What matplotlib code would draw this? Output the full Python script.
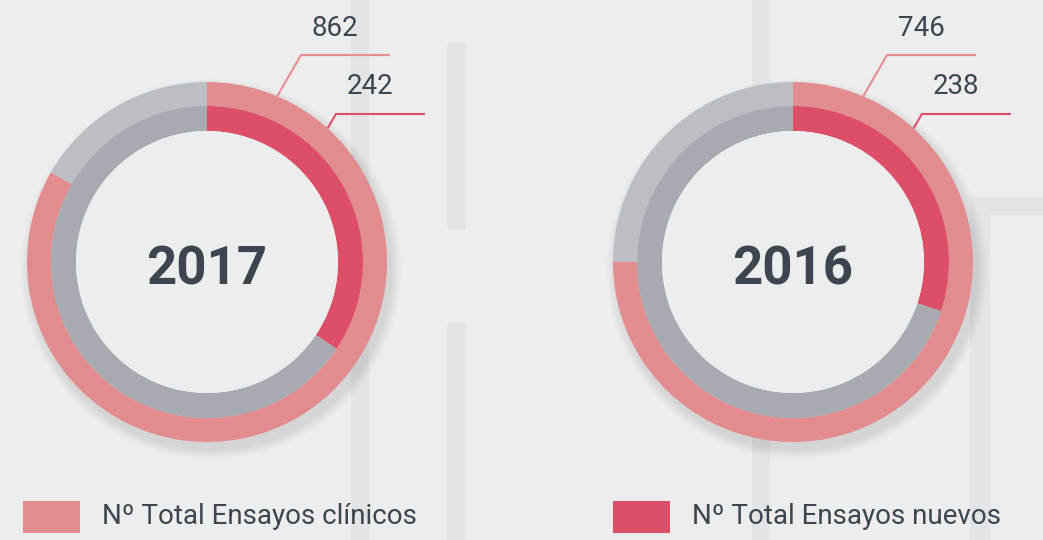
import math

import matplotlib.pyplot as plt
from matplotlib.patches import Rectangle, Wedge

# data
years = ["2017", "2016"]
totales = [862, 746]
nuevos = [242, 238]
# share of each ring that is filled
frac_totales = [0.833, 0.75]
frac_nuevos = [0.344, 0.301]
legend_labels = ["Nº Total Ensayos clínicos", "Nº Total Ensayos nuevos"]

W, H = 1043, 540
BG = "#EDEDED"
PINK = "#E38C8F"
RED = "#DD4E69"
GREY_OUT = "#BBBEC2"
GREY_IN = "#A7AAB0"
TEXT = "#3D4550"
STRIPE = "#E3E4E6"

centers_x = [207, 793]
center_y = 262  # pixels from the top
R_OUT, R_MID, R_IN = 180, 156, 131

fig = plt.figure(figsize=(W / 100, H / 100), dpi=100, facecolor=BG)
ax = fig.add_axes([0, 0, 1, 1])
ax.set_facecolor(BG)

# light decorative bands behind the rings (x, y_top, w, h in pixels)
bands = [(351, 0, 18, 540), (447, 43, 19, 187), (447, 323, 19, 217),
         (752, 0, 18, 540), (970, 197, 73, 18), (970, 215, 20, 325)]
for x, y, w, h in bands:
    ax.add_patch(Rectangle((x, H - y - h), w, h, color=STRIPE, lw=0, zorder=0))

for i, cx in enumerate(centers_x):
    cy = H - center_y

    # soft drop shadow, only outside the ring
    for k in range(8):
        r = R_OUT + 1 + k * 1.3
        ax.add_patch(Wedge((cx + 4, cy - 7), r, 0, 360, width=r - R_IN - 12,
                           color="black", alpha=0.012, lw=0, zorder=1))

    ax.pie([frac_totales[i], 1 - frac_totales[i]], colors=[PINK, GREY_OUT],
           radius=R_OUT, center=(cx, cy), startangle=90, counterclock=False,
           wedgeprops=dict(width=R_OUT - R_MID, linewidth=0), frame=True)
    ax.pie([frac_nuevos[i], 1 - frac_nuevos[i]], colors=[RED, GREY_IN],
           radius=R_MID, center=(cx, cy), startangle=90, counterclock=False,
           wedgeprops=dict(width=R_MID - R_IN, linewidth=0), frame=True)
    # hole on top so the shadow never shows inside
    ax.add_patch(Wedge((cx, cy), R_IN, 0, 360, color=BG, lw=0, zorder=3))

    ax.text(cx, cy - 8, years[i], ha="center", va="center", fontsize=38,
            fontweight="bold", color=TEXT, family="Roboto", zorder=4)

    # leader lines with the values
    for ang, top, val, col in [(23, 55, totales[i], "#E68F93"),
                               (42, 114, nuevos[i], RED)]:
        a = math.radians(ang)
        x0 = cx + (R_OUT + 1) * math.sin(a)
        y0 = center_y - (R_OUT + 1) * math.cos(a)
        x1 = x0 + (y0 - top) * math.tan(math.radians(30))
        x2 = x1 + 88
        ax.plot([x0, x1, x2], [H - y0, H - top, H - top], color=col, lw=1.5,
                solid_joinstyle="miter", zorder=5)
        ax.text(x1 + 34, H - top + 27, str(val), ha="center", va="center",
                fontsize=20, color=TEXT, family="Roboto", zorder=5)

# legend
legend_x = [23, 613]
legend_cols = [PINK, RED]
for lx, lab, col in zip(legend_x, legend_labels, legend_cols):
    ax.add_patch(Rectangle((lx, H - 533), 57, 32, color=col, lw=0))
    ax.text(lx + 79, H - 517, lab, ha="left", va="center", fontsize=20,
            color=TEXT, family="Roboto")

ax.set_xlim(0, W)
ax.set_ylim(0, H)
ax.set_aspect("auto")
ax.axis("off")

plt.savefig("out.png", dpi=100, facecolor=BG)
